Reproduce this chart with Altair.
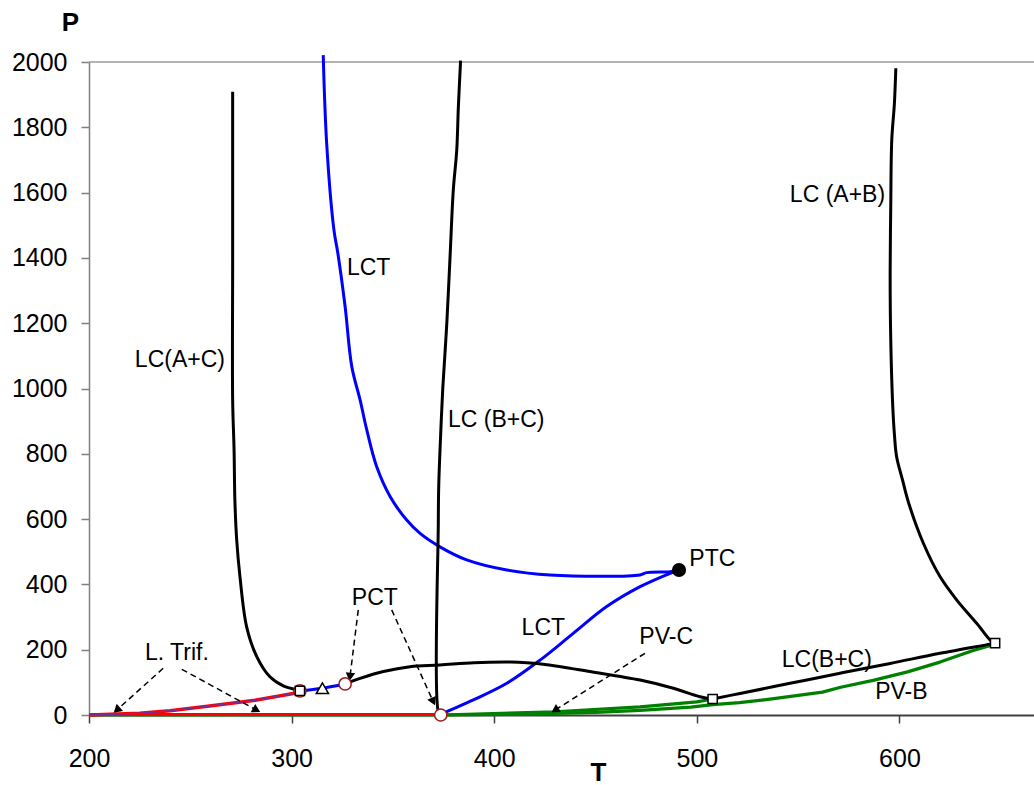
import math
import altair as alt
import pandas as pd

FONT = "Liberation Sans, Arial, Helvetica, sans-serif"
X_DOM = [200, 666.4]
Y_DOM = [0, 2000]
W, H = 945, 653

# ---------------- data (T, P) ----------------
lc_ac_T = [270.9, 270.9, 270.9, 271.6, 272.0, 272.9, 274.5, 277.8, 282.8, 289.3, 295.9, 302.5, 304.1]
lc_ac_P = [1909, 1400, 965, 812, 658, 536, 424, 270, 179, 117, 89, 77, 74]

lc_bc_low_T = [326.4, 333.8, 345.3, 358.4, 373.2, 390.0, 408.0, 416.0, 426.0, 447.3, 472.0, 488.4, 501.6, 507.8]
lc_bc_low_P = [95, 112, 133, 148, 153, 160, 162, 160, 154, 133, 107, 82, 56, 49]

lc_bc_right_T = [507.8, 521.3, 546.0, 570.7, 595.4, 620.0, 644.7, 647.2]
lc_bc_right_P = [49, 66, 97, 128, 158, 189, 217, 220]

lc_bc_vert_T = [373.6, 372.4, 372.4, 372.6, 373.5, 374.6, 376.6, 378.2, 379.8, 381.5, 382.3, 383.4]
lc_bc_vert_P = [0, 10, 588, 700, 850, 1000, 1200, 1404, 1608, 1730, 1863, 2004]

lc_ab_T = [598.2, 597.5, 596.2, 595.7, 595.4, 595.7, 596.7, 597.5, 598.6, 601.5, 604.5, 611.8, 620.0, 628.3, 638.1, 645.5, 647.2]
lc_ab_P = [1981, 1873, 1761, 1557, 1353, 1149, 944, 860, 791, 720, 650, 526, 424, 352, 281, 225, 220]

lct_up_T = [315.6, 317.3, 320.9, 322.8, 326.4, 329.7, 333.8, 337.1, 342.0, 348.6, 356.8, 363.4, 373.2, 386.4, 406.2, 427.5, 472.0, 475.2, 486.8, 491.2]
lct_up_P = [2021, 1751, 1485, 1415, 1251, 1067, 965, 873, 760, 669, 597, 556, 515, 475, 444, 429, 429, 436, 439, 444]

lct_low_T = [373.6, 374.9, 389.7, 406.2, 422.6, 439.0, 455.5, 472.0, 486.8, 491.2]
lct_low_P = [0, 5, 46, 97, 168, 250, 332, 393, 434, 444]

pvc_T = [373.6, 430.0, 472.0, 500.0, 507.8]
pvc_P = [0, 10, 25, 40, 49]

pvb_T = [373.6, 420, 450, 472, 497, 508, 521, 538, 562, 571, 587, 604, 620, 636, 645, 647.2]
pvb_P = [0, 3, 8, 14, 24, 32, 38, 50, 70, 85, 106, 132, 162, 197, 213, 220]

trif_T = [200, 225, 240, 260.5, 282.0, 300.8, 304.1]
trif_P = [0, 5, 13, 28, 45, 66, 74]

trif2_T = [304.1, 315.2, 326.4]
trif2_P = [74, 82, 95]

base_T = [200, 373.6]
base_P = [0, 0]

# markers
sq_T = [304.1, 507.8, 647.2]
sq_P = [74, 49, 220]
tri_T = [315.2]
tri_P = [82]
circ_T = [304.1, 326.4, 373.6]
circ_P = [74, 95, 0]
ptc_T = [491.2]
ptc_P = [444]

# text annotations
lab_text = ["LCT", "LC (B+C)", "PTC", "LCT", "PV-C", "LC(B+C)", "PV-B", "PCT", "L. Trif."]
lab_T = [327.3, 377.2, 496.3, 413.5, 471.6, 541.9, 588.0, 329.7, 227.6]
lab_P = [1369, 903, 477, 265, 238, 168, 71, 359, 189]
rlab_text = ["LC(A+C)", "LC (A+B)"]
rlab_T = [267.1, 592.9]
rlab_P = [1087, 1593]

# dashed arrows (start -> end)
arr_T1 = [236.6, 245.8, 332.9, 349.4, 474.4]
arr_P1 = [143, 140, 322, 322, 189]
arr_T2 = [213.7, 282.7, 328.8, 369.9, 430.0]
arr_P2 = [15, 15, 117, 41, 15]

# ---------------- chart ----------------
xs = alt.Scale(domain=X_DOM, nice=False, zero=False)
ys = alt.Scale(domain=Y_DOM, nice=False)

xaxis = alt.Axis(values=[200, 300, 400, 500, 600], format="d", title="T",
                 titleFontSize=26, titleFontWeight="bold", titleFont=FONT,
                 titleX=509, titleY=57, titleAlign="center", titleBaseline="middle",
                 labelFontSize=25, labelFont=FONT, labelColor="black", labelPadding=23,
                 labelFlush=False, tickSize=8, tickColor="#404040", tickWidth=1.5,
                 domainColor="#404040", domainWidth=2, grid=False)
yaxis = alt.Axis(values=list(range(0, 2001, 200)), format="d", title="P",
                 titleAngle=0, titleFontSize=26, titleFontWeight="bold", titleFont=FONT,
                 titleX=-19, titleY=-40, titleAlign="center", titleBaseline="middle",
                 labelFontSize=25, labelFont=FONT, labelColor="black", labelPadding=14,
                 labelFlush=False, tickSize=8, tickColor="#808080", tickWidth=1.5,
                 domainColor="#808080", domainWidth=1.5, grid=False)

X = lambda f="T": alt.X(f"{f}:Q", scale=xs, axis=xaxis)
Y = lambda f="P": alt.Y(f"{f}:Q", scale=ys, axis=yaxis)


def lines(series, color, width, **kw):
    rows = []
    for name, (ts, ps) in series.items():
        for i, (t, p) in enumerate(zip(ts, ps)):
            rows.append({"s": name, "i": i, "T": t, "P": p})
    return alt.Chart(pd.DataFrame(rows)).mark_line(
        color=color, strokeWidth=width, strokeJoin="round", **kw
    ).encode(x=X(), y=Y(), detail="s:N", order="i:Q")


def pts(ts, ps):
    return pd.DataFrame({"T": ts, "P": ps})


top_rule = alt.Chart(pd.DataFrame({"P": [2000]})).mark_rule(
    color="#999999", strokeWidth=1.5).encode(y=Y())

green = lines({"pvc": (pvc_T, pvc_P), "pvb": (pvb_T, pvb_P),
               "base": (base_T, base_P)}, "#008000", 3.2)
red_base = lines({"base": (base_T, base_P)}, "#FF0000", 2.2, yOffset=-1)
red = lines({"trif": (trif_T, trif_P)}, "#FF0000", 3.5)
purple = lines({"trif": (trif_T, trif_P)}, "#7A2A9A", 1.5)
blue = lines({"up": (lct_up_T, lct_up_P), "low": (lct_low_T, lct_low_P),
              "t2": (trif2_T, trif2_P)}, "#0000FF", 3, interpolate="catmull-rom")
black = lines({"ac": (lc_ac_T, lc_ac_P), "bcl": (lc_bc_low_T, lc_bc_low_P),
               "bcr": (lc_bc_right_T, lc_bc_right_P), "bcv": (lc_bc_vert_T, lc_bc_vert_P),
               "ab": (lc_ab_T, lc_ab_P)}, "#000000", 3, interpolate="catmull-rom")

# dashed arrows
arr_rows = []
for k, (t1, p1, t2, p2) in enumerate(zip(arr_T1, arr_P1, arr_T2, arr_P2)):
    arr_rows.append({"a": k, "i": 0, "T": t1, "P": p1})
    arr_rows.append({"a": k, "i": 1, "T": t2, "P": p2})
arrows = alt.Chart(pd.DataFrame(arr_rows)).mark_line(
    color="black", strokeWidth=1.5, strokeDash=[6, 4]
).encode(x=X(), y=Y(), detail="a:N", order="i:Q")

kx = W / (X_DOM[1] - X_DOM[0])
ky = H / (Y_DOM[1] - Y_DOM[0])
head_rows = []
for t1, p1, t2, p2 in zip(arr_T1, arr_P1, arr_T2, arr_P2):
    dx = (t2 - t1) * kx
    dy = -(p2 - p1) * ky
    ang = math.degrees(math.atan2(dx, -dy)) % 360
    head_rows.append({"T": t2, "P": p2, "ang": ang})
heads = alt.Chart(pd.DataFrame(head_rows)).mark_point(
    shape="triangle-up", filled=True, color="black", size=90, opacity=1
).encode(x=X(), y=Y(), angle=alt.Angle("ang:Q", scale=None))

circles = alt.Chart(pts(circ_T, circ_P)).mark_point(
    shape="circle", filled=True, fill="white", stroke="#9B1B1B", strokeWidth=1.5,
    size=150, opacity=1).encode(x=X(), y=Y())
squares = alt.Chart(pts(sq_T, sq_P)).mark_point(
    shape="square", filled=True, fill="white", stroke="black", strokeWidth=1.5,
    size=85, opacity=1).encode(x=X(), y=Y())
triangles = alt.Chart(pts(tri_T, tri_P)).mark_point(
    shape="triangle-up", filled=True, fill="white", stroke="black", strokeWidth=1.5,
    size=150, opacity=1).encode(x=X(), y=Y())
ptc = alt.Chart(pts(ptc_T, ptc_P)).mark_point(
    shape="circle", filled=True, color="black", size=200, opacity=1).encode(x=X(), y=Y())

labels = alt.Chart(pd.DataFrame({"T": lab_T, "P": lab_P, "txt": lab_text})).mark_text(
    align="left", baseline="middle", font=FONT, fontSize=23, color="black"
).encode(x=X(), y=Y(), text="txt:N")
rlabels = alt.Chart(pd.DataFrame({"T": rlab_T, "P": rlab_P, "txt": rlab_text})).mark_text(
    align="right", baseline="middle", font=FONT, fontSize=23, color="black"
).encode(x=X(), y=Y(), text="txt:N")

chart = alt.layer(
    top_rule, green, red_base, red, purple, blue, black, arrows, heads,
    circles, squares, triangles, ptc, labels, rlabels
).properties(
    width=W, height=H,
    autosize=alt.AutoSizeParams(type="none"),
    padding={"left": 89, "top": 62, "right": 0, "bottom": 70},
    background="white",
).configure_view(stroke=None)

chart.save("out.html", embed_options={"renderer": "svg", "actions": False})
